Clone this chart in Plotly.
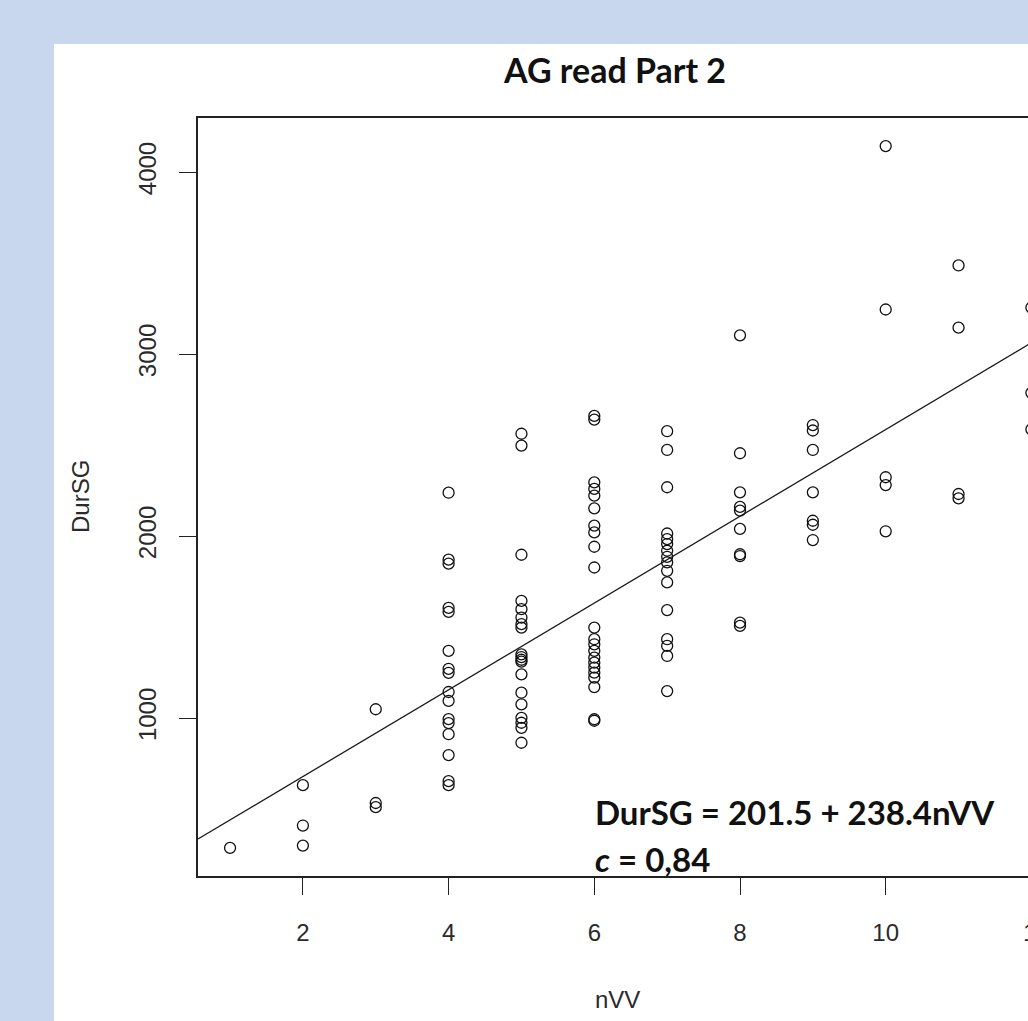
import plotly.graph_objects as go

# ---- data ----
nvv_1 = [1]
dur_1 = [286]
nvv_2 = [2, 2, 2]
dur_2 = [631, 409, 299]
nvv_3 = [3, 3, 3]
dur_3 = [1048, 533, 510]
nvv_4 = [4] * 16
dur_4 = [2238, 1870, 1848, 1605, 1583, 1369, 1270, 1248, 1143, 1094, 994, 972, 911, 796, 653, 631]
nvv_5 = [5] * 19
dur_5 = [2562, 2497, 1897, 1644, 1598, 1552, 1516, 1497, 1350, 1335, 1320, 1310, 1240, 1139, 1075, 1001, 974, 946, 864]
nvv_6 = [6] * 22
dur_6 = [2660, 2640, 2295, 2259, 2222, 2152, 2057, 2020, 1941, 1827, 1497, 1433, 1405, 1369, 1332, 1304, 1277, 1249, 1222, 1170, 993, 985]
nvv_7 = [7] * 16
dur_7 = [2576, 2473, 2268, 2014, 1983, 1956, 1919, 1886, 1855, 1809, 1745, 1593, 1433, 1396, 1341, 1148]
nvv_8 = [8] * 10
dur_8 = [3103, 2455, 2240, 2160, 2140, 2039, 1900, 1890, 1524, 1506]
nvv_9 = [9] * 7
dur_9 = [2610, 2580, 2473, 2240, 2084, 2062, 1978]
nvv_10 = [10] * 5
dur_10 = [4143, 3245, 2323, 2280, 2026]
nvv_11 = [11] * 4
dur_11 = [3487, 3145, 2231, 2207]
nvv_12 = [12] * 3
dur_12 = [3255, 2787, 2586]

intercept = 201.5
slope = 238.4
x_ticks = [2, 4, 6, 8, 10, 12]
y_ticks = [1000, 2000, 3000, 4000]

nvv = nvv_1 + nvv_2 + nvv_3 + nvv_4 + nvv_5 + nvv_6 + nvv_7 + nvv_8 + nvv_9 + nvv_10 + nvv_11 + nvv_12
dur = dur_1 + dur_2 + dur_3 + dur_4 + dur_5 + dur_6 + dur_7 + dur_8 + dur_9 + dur_10 + dur_11 + dur_12

# R-style axis extent (4% padding)
xr = max(nvv) - min(nvv)
x_lo = min(nvv) - 0.04 * xr
x_hi_full = max(nvv) + 0.04 * xr
yr = max(dur) - min(dur)
y_lo = min(dur) - 0.04 * yr
y_hi = max(dur) + 0.04 * yr

W, H = 1028, 1021
L, R, T, B = 198, 0, 118, 145
plot_w = W - L - R
plot_h = H - T - B
px_per_unit = 72.85
x_hi = x_lo + plot_w / px_per_unit

def px_to_paper_x(px):
    return (px - L) / plot_w

def px_to_paper_y(py):
    return (H - B - py) / plot_h

fig = go.Figure()

fig.add_trace(go.Scatter(
    x=[x_lo, x_hi_full],
    y=[intercept + slope * x_lo, intercept + slope * x_hi_full],
    mode="lines",
    line=dict(color="#1a1a1a", width=1.3),
    hoverinfo="skip",
    showlegend=False,
))

fig.add_trace(go.Scatter(
    x=nvv, y=dur,
    mode="markers",
    marker=dict(symbol="circle-open", size=11, color="#111111", line=dict(width=1.3, color="#111111")),
    showlegend=False,
))

axis_font = dict(family="Liberation Sans, Arial, sans-serif", size=24, color="#2a2a2a")

fig.update_xaxes(
    range=[x_lo, x_hi],
    tickvals=x_ticks,
    ticks="outside", ticklen=17, tickwidth=1.2, tickcolor="#222",
    showline=True, linecolor="#222", linewidth=1.5, mirror=True,
    showgrid=False, zeroline=False,
    tickfont=axis_font,
    ticklabelstandoff=17,
)
fig.update_yaxes(
    range=[y_lo, y_hi],
    tickvals=y_ticks,
    ticks="outside", ticklen=17, tickwidth=1.2, tickcolor="#222",
    showline=True, linecolor="#222", linewidth=1.5, mirror=False,
    showgrid=False, zeroline=False,
    tickfont=axis_font, tickangle=-90,
    ticklabelstandoff=14,
)

fig.add_shape(type="rect", xref="paper", yref="paper",
              x0=px_to_paper_x(54), x1=px_to_paper_x(1100),
              y0=px_to_paper_y(1100), y1=px_to_paper_y(44),
              fillcolor="white", line=dict(width=0), layer="below")

ann_font_bold = dict(family="Lato, Open Sans, sans-serif", size=33, color="#111")
annotations = [
    dict(text="<b>AG read Part 2</b>", x=px_to_paper_x(614), y=px_to_paper_y(69),
         font=dict(family="Lato, Open Sans, sans-serif", size=34, color="#111")),
    dict(text="nVV", x=px_to_paper_x(617), y=px_to_paper_y(999), font=axis_font),
    dict(text="DurSG", x=px_to_paper_x(80), y=px_to_paper_y(497), font=axis_font, textangle=-90),
    dict(text="12", x=px_to_paper_x(1036), y=px_to_paper_y(932), font=axis_font),
    dict(text="<b>DurSG = 201.5 + 238.4nVV</b>", x=px_to_paper_x(593), y=px_to_paper_y(812),
         xanchor="left", font=ann_font_bold),
    dict(text="<b><i>c</i> = 0,84</b>", x=px_to_paper_x(593), y=px_to_paper_y(859),
         xanchor="left", font=ann_font_bold),
]
for a in annotations:
    a.setdefault("xanchor", "center")
    fig.add_annotation(xref="paper", yref="paper", showarrow=False, yanchor="middle", **a)

fig.update_layout(
    width=W, height=H,
    margin=dict(l=L, r=R, t=T, b=B, pad=0),
    paper_bgcolor="#c8d6ee",
    plot_bgcolor="white",
    showlegend=False,
)

fig.write_html("out.html")
